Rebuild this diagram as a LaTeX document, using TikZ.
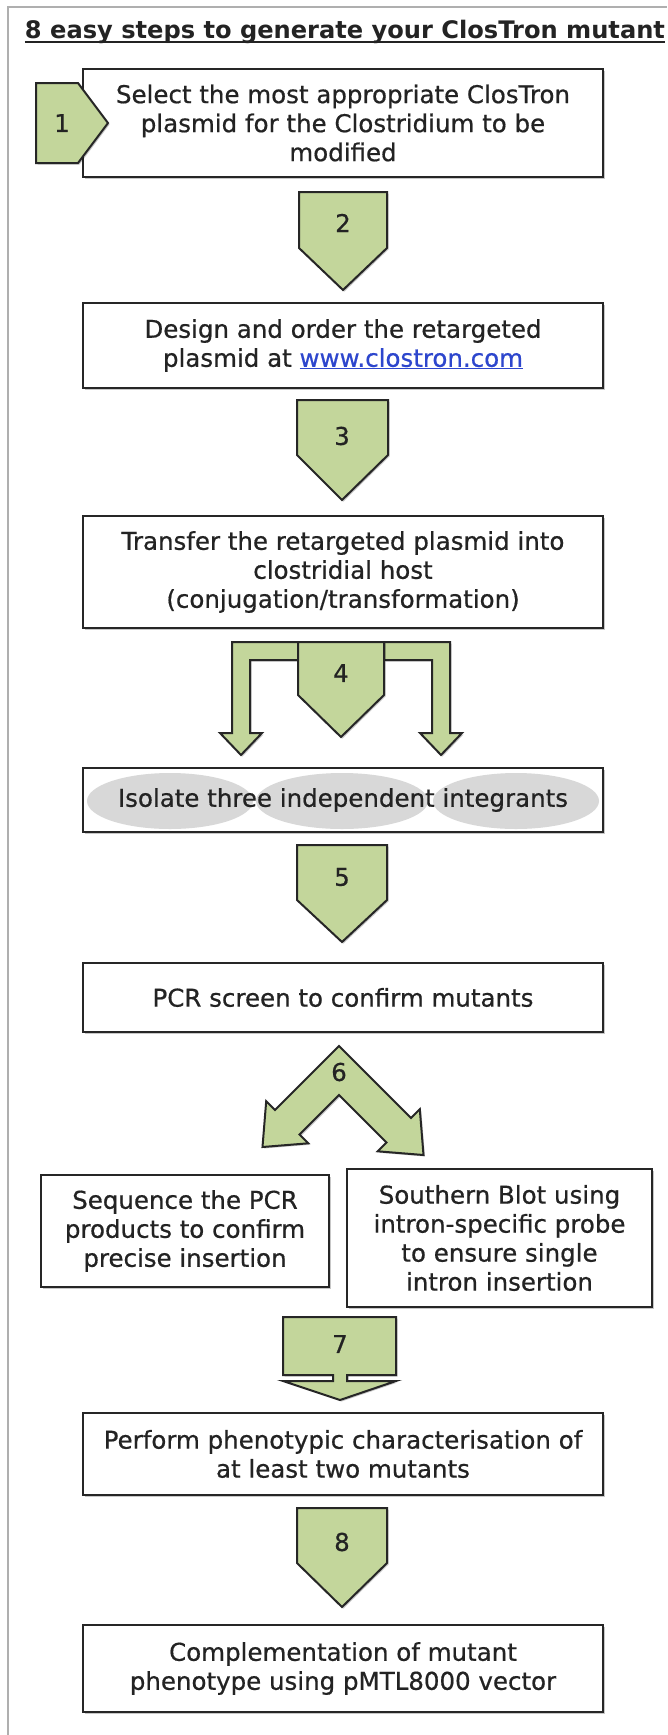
\documentclass[tikz,border=0pt]{standalone}
\usepackage{fontspec}
\usepackage{graphicx}
\setmainfont{DejaVu Sans}
\newfontfamily\heavyfam{DejaVu Sans}[BoldFont={DejaVu Sans}, BoldFeatures={FakeBold=0.6}]
\usetikzlibrary{shadows}
\definecolor{agreen}{RGB}{195,214,155}
\definecolor{edge}{RGB}{38,38,38}
\definecolor{txt}{RGB}{35,35,35}
\definecolor{framegray}{RGB}{175,175,175}
\definecolor{ellgray}{RGB}{216,216,216}
\definecolor{linkblue}{RGB}{45,70,205}
\newcommand{\stepfont}{\heavyfam\bfseries\fontsize{24.5}{29}\selectfont}
\tikzset{
  softshadow/.style={drop shadow={shadow xshift=1.5pt, shadow yshift=-1.5pt, opacity=0.22, fill=black}},
  stepbox/.style={draw=edge, line width=2.5pt, fill=white, inner sep=0pt,
    align=center, font=\stepfont, text=txt, softshadow},
  garrow/.style={draw=edge, fill=agreen, line width=2pt, line join=miter, softshadow},
  numlabel/.style={font=\stepfont, text=txt, inner sep=0pt},
  plaintext/.style={font=\stepfont, text=txt, inner sep=0pt, align=center},
}
\begin{document}
\begin{tikzpicture}[x=1pt,y=-1pt]
\useasboundingbox (0,0) rectangle (667,1735);
\fill[white] (0,0) rectangle (667,1735);
% frame
\draw[framegray, line width=1.5pt] (8,1735) -- (8,7) -- (667,7);
% title
\node[inner sep=0pt, anchor=base, text=txt] (title) at (345,38)
  {\resizebox{640pt}{!}{\bfseries 8 easy steps to generate your ClosTron mutant}};
\draw[txt, line width=1.8pt] ([yshift=-4pt]title.base west) -- ([yshift=-4pt]title.base east);

% boxes
\node[stepbox, minimum width=520pt, minimum height=108pt] (b1) at (343,123)
  {Select the most appropriate ClosTron\\plasmid for the Clostridium to be\\modified};
\node[stepbox, minimum width=520pt, minimum height=85pt] (b2) at (343,345.5)
  {Design and order the retargeted\\plasmid at {\color{linkblue}\underline{www.clostron.com}}};
\node[stepbox, minimum width=520pt, minimum height=112pt] (b3) at (343,572)
  {Transfer the retargeted plasmid into\\clostridial host\\(conjugation/transformation)};
\node[stepbox, minimum width=520pt, minimum height=64pt] (b4) at (343,800) {};
\fill[ellgray] (170,801) ellipse [x radius=83, y radius=28];
\fill[ellgray] (342,801) ellipse [x radius=86, y radius=28];
\fill[ellgray] (516,801) ellipse [x radius=83, y radius=28];
\node[plaintext] (t4) at (b4.center) {Isolate three independent integrants};
\node[stepbox, minimum width=520pt, minimum height=69pt] (b5) at (343,997.5)
  {PCR screen to confirm mutants};
\node[stepbox, minimum width=288pt, minimum height=112pt] (b6a) at (185,1231)
  {Sequence the PCR\\products to confirm\\precise insertion};
\node[stepbox, minimum width=305pt, minimum height=138pt] (b6b) at (499.5,1238)
  {Southern Blot using\\intron-specific probe\\to ensure single\\intron insertion};
\node[stepbox, minimum width=520pt, minimum height=82pt] (b7) at (343,1454)
  {Perform phenotypic characterisation of\\at least two mutants};
\node[stepbox, minimum width=520pt, minimum height=87pt] (b8) at (343,1668.5)
  {Complementation of mutant\\phenotype using pMTL8000 vector};

% arrow 1
\draw[garrow] (36,83) -- (78,83) -- (108,123) -- (78,163) -- (36,163) -- cycle;
\node[numlabel] (n1) at (62,123) {1};
% arrow 2
\draw[garrow] (299,192) -- (387,192) -- (387,248) -- (343,290) -- (299,248) -- cycle;
\node[numlabel] (n2) at (343,223) {2};
% arrow 3
\draw[garrow] (297,400) -- (388,400) -- (388,455) -- (342,500) -- (297,455) -- cycle;
\node[numlabel] (n3) at (342,436) {3};
% arrow 4
\draw[garrow] (232,642) -- (298,642) -- (298,660) -- (250,660) -- (250,733) -- (262,733)
  -- (241,755) -- (220,733) -- (232,733) -- cycle;
\draw[garrow] (450,642) -- (384,642) -- (384,660) -- (432,660) -- (432,733) -- (420,733)
  -- (441,755) -- (462,733) -- (450,733) -- cycle;
\draw[garrow] (298,642) -- (384,642) -- (384,695) -- (341,737) -- (298,695) -- cycle;
\node[numlabel] (n4) at (341,673) {4};
% arrow 5
\draw[garrow] (297,845) -- (387,845) -- (387,900) -- (342,942) -- (297,900) -- cycle;
\node[numlabel] (n5) at (342,877) {5};
% arrow 6
\draw[garrow] (339,1046) -- (411,1118) -- (419.8,1109.2) -- (423.5,1155) -- (377.7,1151.3)
  -- (386.5,1142.5) -- (339,1095) -- (299.5,1134.5) -- (308.3,1143.3) -- (262.5,1147)
  -- (266.2,1101.2) -- (275,1110) -- cycle;
\node[numlabel] (n6) at (339,1072) {6};
% arrow 7
\draw[garrow] (283,1317) -- (396,1317) -- (396,1375) -- (347,1375) -- (347,1381) -- (396,1381)
  -- (340,1400) -- (283,1381) -- (333,1381) -- (333,1375) -- (283,1375) -- cycle;
\node[numlabel] (n7) at (340,1344) {7};
% arrow 8
\draw[garrow] (297,1508) -- (387,1508) -- (387,1563) -- (342,1607) -- (297,1563) -- cycle;
\node[numlabel] (n8) at (342,1542) {8};
\end{tikzpicture}
\end{document}
